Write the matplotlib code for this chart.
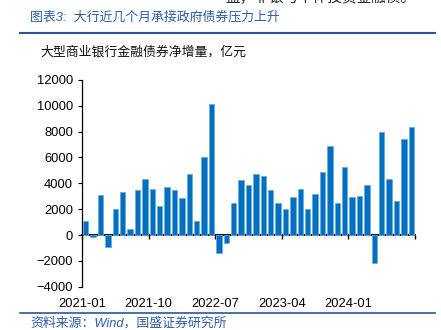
import numpy as np
import matplotlib.pyplot as plt

plt.rcParams['font.family'] = ['Liberation Sans', 'Noto Sans CJK SC', 'DejaVu Sans']

# 大型商业银行金融债券净增量（亿元），2021-01 ~ 2024-09
months = ['2021-01', '2021-02', '2021-03', '2021-04', '2021-05', '2021-06', '2021-07',
          '2021-08', '2021-09', '2021-10', '2021-11', '2021-12', '2022-01', '2022-02',
          '2022-03', '2022-04', '2022-05', '2022-06', '2022-07', '2022-08', '2022-09',
          '2022-10', '2022-11', '2022-12', '2023-01', '2023-02', '2023-03', '2023-04',
          '2023-05', '2023-06', '2023-07', '2023-08', '2023-09', '2023-10', '2023-11',
          '2023-12', '2024-01', '2024-02', '2024-03', '2024-04', '2024-05', '2024-06',
          '2024-07', '2024-08', '2024-09']
values = [1100, -150, 3100, -900, 2000, 3300, 500, 3500, 4300, 3550, 2250, 3700,
          3450, 2900, 4700, 1050, 6050, 10150, -1400, -650, 2500, 4250, 3850, 4700,
          4600, 3500, 2500, 2000, 2950, 3550, 2050, 3150, 4900, 6850, 2450, 5250,
          2950, 3050, 3850, -2150, 8000, 4300, 2600, 7450, 8350]
tick_labels = ['2021-01', '2021-10', '2022-07', '2023-04', '2024-01', '']

blue = '#0070C0'
dark_blue = '#2B579A'

fig = plt.figure(figsize=(4.41, 3.30), dpi=100)

# 标题、分割线、来源
fig.text(0.068, 0.948, '图表3:  大行近几个月承接政府债券压力上升', fontsize=9.3,
         color='#2F5DA8', ha='left', va='center', style='italic')
fig.text(0.51, 1.008, '盘，非银与个体投资金融债。', fontsize=10.5,
         color='#222222', ha='left', va='center')
fig.add_artist(plt.Line2D([0.045, 0.986], [0.900, 0.900], color=dark_blue, lw=1.5))
fig.add_artist(plt.Line2D([0.045, 0.986], [0.052, 0.052], color=dark_blue, lw=1.2))
fig.text(0.068, 0.020, '资料来源：Wind，国盛证券研究所', fontsize=9.3,
         color='#2F5DA8', ha='left', va='center', style='italic')
fig.text(0.091, 0.842, '大型商业银行金融债券净增量，亿元', fontsize=9.3,
         color='#111111', ha='left', va='center')

ax = fig.add_axes([0.186, 0.131, 0.755, 0.627])
x = np.arange(len(values))
ax.bar(x, values, width=0.74, color=blue, edgecolor='#6FA8DC', linewidth=0.6, zorder=3)

ax.set_xlim(-0.5, len(values) - 0.5)
ax.set_ylim(-4000, 12000)
ax.set_yticks(np.arange(-4000, 12001, 2000))

ticks = np.arange(-0.5, len(values), 9)
ax.set_xticks(ticks)
ax.set_xticklabels(tick_labels)
ax.tick_params(axis='x', length=0, pad=8, labelsize=9.3)
ax.tick_params(axis='y', length=3, width=0.8, labelsize=9.3, direction='out')

for s in ['top', 'right', 'bottom']:
    ax.spines[s].set_visible(False)
ax.spines['left'].set_linewidth(0.9)

# 零轴及刻度
zero_ax = ax.secondary_xaxis(0.25)
zero_ax.set_xticks(ticks)
zero_ax.set_xticklabels([])
zero_ax.tick_params(axis='x', length=3, width=1.0, direction='out')
zero_ax.spines['bottom'].set_linewidth(1.3)
zero_ax.spines['bottom'].set_zorder(4)

fig.savefig('out.png', dpi=100)
